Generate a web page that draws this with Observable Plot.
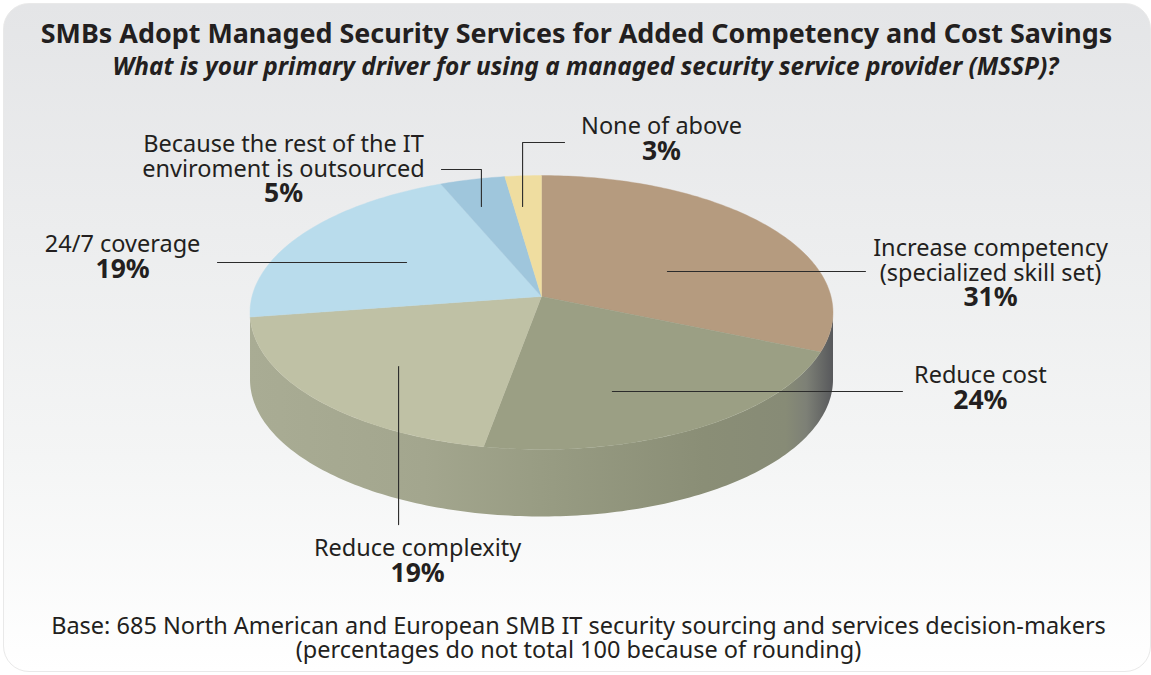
<!DOCTYPE html>
<html>
<head>
<meta charset="utf-8">
<script src="https://cdn.jsdelivr.net/npm/d3@7"></script>
<script src="https://cdn.jsdelivr.net/npm/@observablehq/plot@0.6"></script>
<style>
  html, body { margin: 0; padding: 0; background: #fff; }
  #page { position: relative; width: 1151px; height: 675px; overflow: hidden; font-family: "Noto Sans", sans-serif; color: #231f20; }
  #card { position: absolute; left: 3px; top: 3px; width: 1148px; height: 669px; box-sizing: border-box; border-radius: 26px;
          border: 1.5px solid #e9e9e9; background: linear-gradient(#e4e5e7, #f4f5f5 68%, #ffffff); }
  #head, #foot { position: absolute; left: 0; width: 1151px; text-align: center; }
  #head { top: 0; height: 100px; }
  h1 { position: absolute; left: 0; width: 1153px; top: 15px; margin: 0; font-size: 26.9px; line-height: 36px; font-weight: 700; white-space: nowrap; }
  h2 { position: absolute; left: 0; width: 1171px; top: 50px; margin: 0; font-size: 24.4px; line-height: 32px; font-weight: 700; font-style: italic; white-space: nowrap; }
  #foot { top: 613px; width: 1157px; font-size: 23.5px; line-height: 24px; white-space: nowrap; }
  #chart { position: absolute; left: 0; top: 100px; }
  #chart svg { display: block; background: transparent; overflow: visible; }
</style>
</head>
<body>
<div id="page">
  <div id="card"></div>
  <div id="head">
    <h1>SMBs Adopt Managed Security Services for Added Competency and Cost Savings</h1>
    <h2>What is your primary driver for using a managed security service provider (MSSP)?</h2>
  </div>
  <div id="chart"></div>
  <div id="foot">Base: 685 North American and European SMB IT security sourcing and services decision-makers<br>(percentages do not total 100 because of rounding)</div>
</div>
<script>
// Survey answers, clockwise from twelve o'clock.
const drivers = ["Increase competency\n(specialized skill set)", "Reduce cost", "Reduce complexity", "24/7 coverage", "Because the rest of the IT\nenviroment is outsourced", "None of above"];
const shares = [31, 24, 19, 19, 5, 3];
const sliceColors = ["#b59b7f", "#9b9f84", "#bfc1a5", "#b9dcec", "#9fc6dc", "#efdda0"];

// Callout geometry in the pie's own unit space: where the leader starts on
// the disc (polar), how it runs away from there, and where the label sits.
const leaderAngles = [67, 160.8, 223.6, 298.4, 342.7, 354.4];
const leaderRadii = [0.483, 0.688, 0.675, 0.546, 0.757, 0.726];
const leaderRuns = [[[0.684, 0]], [[1.002, 0]], [[0, -1.17]], [[-0.653, 0]], [[0, 0.274], [-0.138, 0]], [[0, 0.474], [0.145, 0]]];
const labelX = [1.551, 1.516, -0.428, -1.447, -0.891, 0.4145];
const labelY = [0.116, -0.639, -1.92, 0.33, 0.886, 1.204];
const percentY = [-0.0716, -0.834, -2.115, 0.135, 0.698, 1.009];

// Tilted-disc projection: the near edge is drawn larger than the far edge.
const tilt = 0.1168;
const wallDepth = 0.496;
const project = (deg, r = 1) => {
  const a = deg * Math.PI / 180, u = r * Math.sin(a), v = r * Math.cos(a), w = 1 + tilt * v;
  return { x: u / w, y: v / w };
};
// Angular foreshortening of the tilted disc, per quadrant; the shares still set every slice edge.
const quadrantWarp = [-4, -4, -11, -7];
const foreshorten = (deg) => deg + quadrantWarp[Math.min(3, Math.floor(deg / 90))] * Math.sin(2 * deg * Math.PI / 180);

const arcs = d3.pie().sort(null).value((d) => d)(shares);
const slices = arcs.flatMap((arc, i) => {
  const a0 = foreshorten(arc.startAngle * 180 / Math.PI), a1 = foreshorten(arc.endAngle * 180 / Math.PI);
  const steps = Math.max(2, Math.ceil(a1 - a0));
  const rim = d3.range(steps + 1).map((k) => project(a0 + (a1 - a0) * k / steps));
  return [{ x: 0, y: 0 }, ...rim, { x: 0, y: 0 }].map((p) => ({ ...p, i }));
});

// The visible front wall: near rim, then the same rim lowered by the pie's depth.
const sideFrom = 180 / Math.PI * Math.acos(-tilt), sideTo = 360 - sideFrom;
const rimFront = d3.range(sideFrom, sideTo + 0.5, 1).map((deg) => project(deg));
const wall = [...rimFront, ...rimFront.slice().reverse().map((p) => ({ x: p.x, y: p.y - wallDepth }))];

const leaders = shares.flatMap((_, i) => {
  let p = project(leaderAngles[i], leaderRadii[i]);
  const pts = [{ ...p, i }];
  for (const [dx, dy] of leaderRuns[i]) {
    p = { x: p.x + dx, y: p.y + dy };
    pts.push({ ...p, i });
  }
  return pts;
});

const labels = drivers.map((name, i) => ({ name, pct: shares[i] + "%", x: labelX[i], y: labelY[i], yp: percentY[i] }));

const textStyle = { fontFamily: "Noto Sans, sans-serif", fill: "#231f20", textAnchor: "middle", lineAnchor: "bottom" };

const plot = Plot.plot({
  width: 1151,
  height: 500,
  margin: 0,
  x: { domain: [-1, 1], range: [251.5, 830.5], axis: null },
  y: { domain: [-1, 1], range: [331.1, 60.9], axis: null },
  marks: [
    Plot.line(wall, { x: "x", y: "y", fill: "url(#wallShade)", stroke: "none", curve: "linear" }),
    Plot.line(slices, { x: "x", y: "y", z: "i", fill: (d) => sliceColors[d.i], stroke: (d) => sliceColors[d.i], strokeWidth: 0.4, curve: "linear" }),
    Plot.line(leaders, { x: "x", y: "y", z: "i", stroke: "#2b2b2b", strokeWidth: 1.1, curve: "linear" }),
    Plot.text(labels, { ...textStyle, x: "x", y: "y", text: "name", fontSize: 23.5, lineHeight: 1.06 }),
    Plot.text(labels, { ...textStyle, x: "x", y: "yp", text: "pct", fontSize: 26.5, fontWeight: 700 })
  ]
});

// Horizontal shading of the wall, fading to dark grey at the right-hand edge.
const grad = d3.select(plot).insert("defs", ":first-child").append("linearGradient")
  .attr("id", "wallShade").attr("gradientUnits", "userSpaceOnUse")
  .attr("x1", 249).attr("x2", 832).attr("y1", 0).attr("y2", 0);
[[0, "#a9ac94"], [0.3, "#a3a68e"], [0.5, "#989c83"], [0.78, "#8a8e76"], [0.92, "#878b76"], [0.955, "#7d8076"], [1, "#58595c"]]
  .forEach(([o, c]) => grad.append("stop").attr("offset", o).attr("stop-color", c));

document.getElementById("chart").append(plot);
</script>
</body>
</html>
